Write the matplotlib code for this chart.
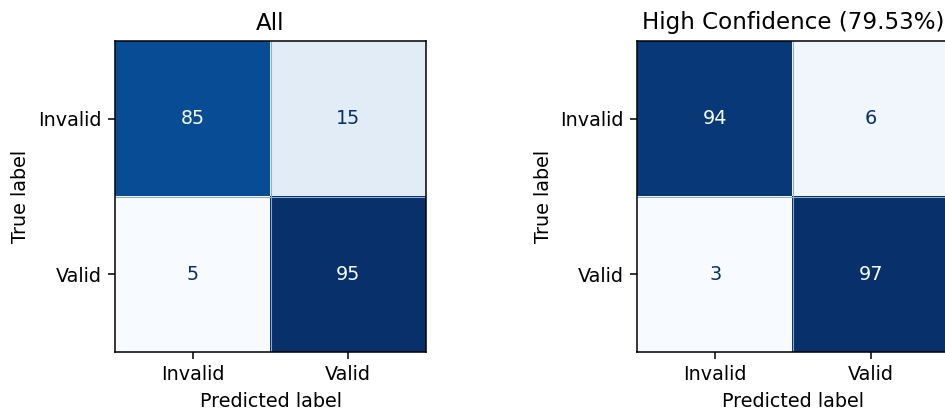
import numpy as np
import matplotlib
matplotlib.use("Agg")
import matplotlib.pyplot as plt

# Confusion-matrix data (percent of each true class)
class_names = ["Invalid", "Valid"]
cm_all = np.array([[85, 15],
                   [5, 95]])
cm_high = np.array([[94, 6],
                    [3, 97]])
titles = ["All", "High Confidence (79.53%)"]

plt.rcParams["font.family"] = ["DejaVu Sans"]

DPI = 138
W, H = 945, 412
fig = plt.figure(figsize=(W / DPI, H / DPI), dpi=DPI)
axes_px = [(114.5, 41, 312, 311), (637, 41, 312, 311)]

cmap = plt.get_cmap("Blues")
for (x0, y0, w, h), cm, title in zip(axes_px, [cm_all, cm_high], titles):
    ax = fig.add_axes([x0 / W, 1 - (y0 + h) / H, w / W, h / H])
    ax.imshow(cm, cmap=cmap, interpolation="nearest",
              vmin=cm.min(), vmax=cm.max())
    thresh = (cm.max() + cm.min()) / 2.0
    for i in range(cm.shape[0]):
        for j in range(cm.shape[1]):
            color = cmap(0.0) if cm[i, j] > thresh else cmap(1.0)
            ax.text(j, i, f"{cm[i, j]}", ha="center", va="center",
                    color=color)
    # faint seams between cells
    ax.axhline(0.5, color="#8fabcd", lw=0.55)
    ax.axvline(0.5, color="#8fabcd", lw=0.55)
    ax.set_xticks(range(len(class_names)))
    ax.set_yticks(range(len(class_names)))
    ax.set_xticklabels(class_names)
    ax.set_yticklabels(class_names)
    ax.set_xlabel("Predicted label")
    ax.set_ylabel("True label")
    ax.set_title(title)

fig.savefig("out.png", dpi=DPI)
